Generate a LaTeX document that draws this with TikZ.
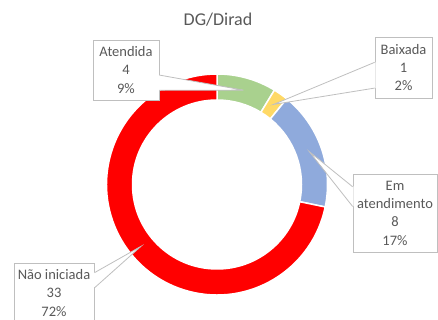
\documentclass[tikz,border=0pt]{standalone}
\usepackage{fontspec}
\setmainfont{Carlito}
\usetikzlibrary{calc}

\definecolor{sliceRed}{HTML}{FF0000}
\definecolor{sliceGreen}{HTML}{A9D18E}
\definecolor{sliceYellow}{HTML}{FFD966}
\definecolor{sliceBlue}{HTML}{8FAADC}
\definecolor{boxgray}{HTML}{BFBFBF}
\definecolor{labelgray}{HTML}{595959}

\tikzset{
  slice/.style={draw=white, line width=1.5pt},
  databox/.style={draw=boxgray, line width=0.8pt, fill=white, text=labelgray,
    align=center, inner sep=0pt, font=\fontsize{14.5}{18.3}\selectfont},
  leader/.style={draw=boxgray, line width=0.8pt},
  charttitle/.style={text=labelgray, font=\fontsize{18}{21}\selectfont}
}

\begin{document}
\begin{tikzpicture}[x=1pt,y=1pt]
\useasboundingbox (0,0) rectangle (438,320);
\coordinate (c) at (217,135.5);

\node[charttitle] (ttl) at (218,300) {DG/Dirad};

% ring, clockwise from the top
\filldraw[slice, fill=sliceGreen] ($(c)+(90:110.5pt)$) arc[start angle=90, end angle=58.70, radius=110.5pt]
  -- ($(c)+(58.70:84.5pt)$) arc[start angle=58.70, end angle=90, radius=84.5pt] -- cycle;
\filldraw[slice, fill=sliceYellow] ($(c)+(58.70:110.5pt)$) arc[start angle=58.70, end angle=50.87, radius=110.5pt]
  -- ($(c)+(50.87:84.5pt)$) arc[start angle=50.87, end angle=58.70, radius=84.5pt] -- cycle;
\filldraw[slice, fill=sliceBlue] ($(c)+(50.87:110.5pt)$) arc[start angle=50.87, end angle=-11.74, radius=110.5pt]
  -- ($(c)+(-11.74:84.5pt)$) arc[start angle=-11.74, end angle=50.87, radius=84.5pt] -- cycle;
\filldraw[slice, fill=sliceRed] ($(c)+(-11.74:110.5pt)$) arc[start angle=-11.74, end angle=-270, radius=110.5pt]
  -- ($(c)+(-270:84.5pt)$) arc[start angle=-270, end angle=-11.74, radius=84.5pt] -- cycle;

% where the callouts point
\coordinate (atdTip) at ($(c)+(74.35:98pt)$);
\coordinate (baiTip) at ($(c)+(54.78:98pt)$);
\coordinate (emTip) at ($(c)+(19.57:98pt)$);
\coordinate (naoTip) at ($(c)+(219.13:98pt)$);

% data labels
\node[databox, minimum width=66pt, minimum height=60pt] (atd) at (126,250) {Atendida\\4\\9\%};
\node[databox, minimum width=57pt, minimum height=61pt] (bai) at (403.5,252.5) {Baixada\\1\\2\%};
\node[databox, minimum width=84pt, minimum height=78pt] (em) at (395,107) {Em\\atendimento\\8\\17\%};
\node[databox, minimum width=80pt, minimum height=60pt] (nao) at (54,27) {N\~ao iniciada\\33\\72\%};

% wedges
\coordinate (atdA) at ($(atd.north east)!7/12!(atd.south east)$);
\coordinate (atdB) at ($(atd.north east)!10/12!(atd.south east)$);
\fill[white] ([xshift=-1pt]atdA) -- (atdTip) -- ([xshift=-1pt]atdB) -- cycle;
\draw[leader] (atdA) -- (atdTip) -- (atdB);

\coordinate (baiA) at ($(bai.north west)!5/12!(bai.south west)$);
\coordinate (baiB) at ($(bai.north west)!10/12!(bai.south west)$);
\fill[white] ([xshift=1pt]baiA) -- (baiTip) -- ([xshift=1pt]baiB) -- cycle;
\draw[leader] (baiA) -- (baiTip) -- (baiB);

\coordinate (emA) at ($(em.north west)!2/12!(em.south west)$);
\coordinate (emB) at ($(em.north west)!5/12!(em.south west)$);
\fill[white] ([xshift=1pt]emA) -- (emTip) -- ([xshift=1pt]emB) -- cycle;
\draw[leader] (emA) -- (emTip) -- (emB);

\coordinate (naoA) at ($(nao.north east)!2/12!(nao.south east)$);
\coordinate (naoB) at ($(nao.north east)!5/12!(nao.south east)$);
\fill[white] ([xshift=-1pt]naoA) -- (naoTip) -- ([xshift=-1pt]naoB) -- cycle;
\draw[leader] (naoA) -- (naoTip) -- (naoB);
\end{tikzpicture}
\end{document}
